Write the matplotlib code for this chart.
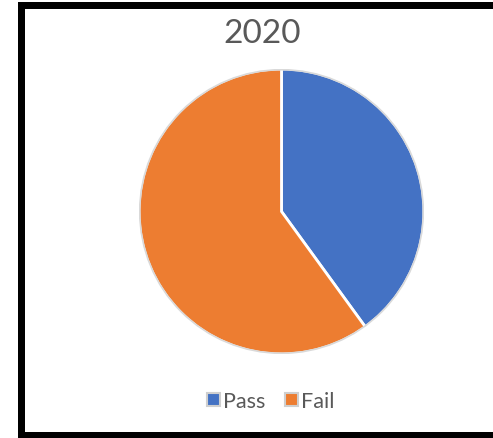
import matplotlib
matplotlib.use("Agg")
import matplotlib.pyplot as plt
from matplotlib.patches import Rectangle, Patch

title = "2020"
labels = ["Pass", "Fail"]
values = [40, 60]
colors = ["#4472C4", "#ED7D31"]

W, H = 493, 439
fig = plt.figure(figsize=(W / 100, H / 100), dpi=100)
fig.patch.set_facecolor("white")

# frame (left, top, bottom black bars)
def px_rect(x0, y0, x1, y1):
    fig.patches.append(Rectangle((x0 / W, 1 - y1 / H), (x1 - x0) / W, (y1 - y0) / H,
                                 transform=fig.transFigure, facecolor="black",
                                 edgecolor="none", zorder=10))

px_rect(18, 3, W, 9.5)
px_rect(18, 3, 24.5, H)
px_rect(18, 433, W, H)

# pie axes
l, r, t, b = 139, 424, 70, 355
ax = fig.add_axes([l / W, 1 - b / H, (r - l) / W, (b - t) / H])
wedges, _ = ax.pie(values, colors=colors, startangle=90, counterclock=False,
                   radius=1, wedgeprops=dict(edgecolor="white", linewidth=2))
circle = plt.Circle((0, 0), 0.995, fill=False, edgecolor="#D9D9D9", linewidth=1.2)
ax.add_patch(circle)
ax.set_xlim(-1.0, 1.0)
ax.set_ylim(-1.0, 1.0)
ax.set_aspect("equal")
ax.axis("off")

fig.text(262 / W, 1 - 34 / H, title, ha="center", va="center",
         fontsize=24, color="#595959", family="Lato")

handles = [Patch(facecolor=c, edgecolor="#CFCFCF", linewidth=1.5, label=lab)
           for c, lab in zip(colors, labels)]
fig.legend(handles=handles, loc="center", bbox_to_anchor=(271 / W, 1 - 402 / H),
           ncol=2, frameon=False, handlelength=0.6, handleheight=0.6,
           handletextpad=0.15, columnspacing=0.9,
           prop=dict(family="Lato", size=15.5))
for txt in fig.legends[0].get_texts():
    txt.set_color("#595959")

fig.savefig("out.png", dpi=100, facecolor="white")
